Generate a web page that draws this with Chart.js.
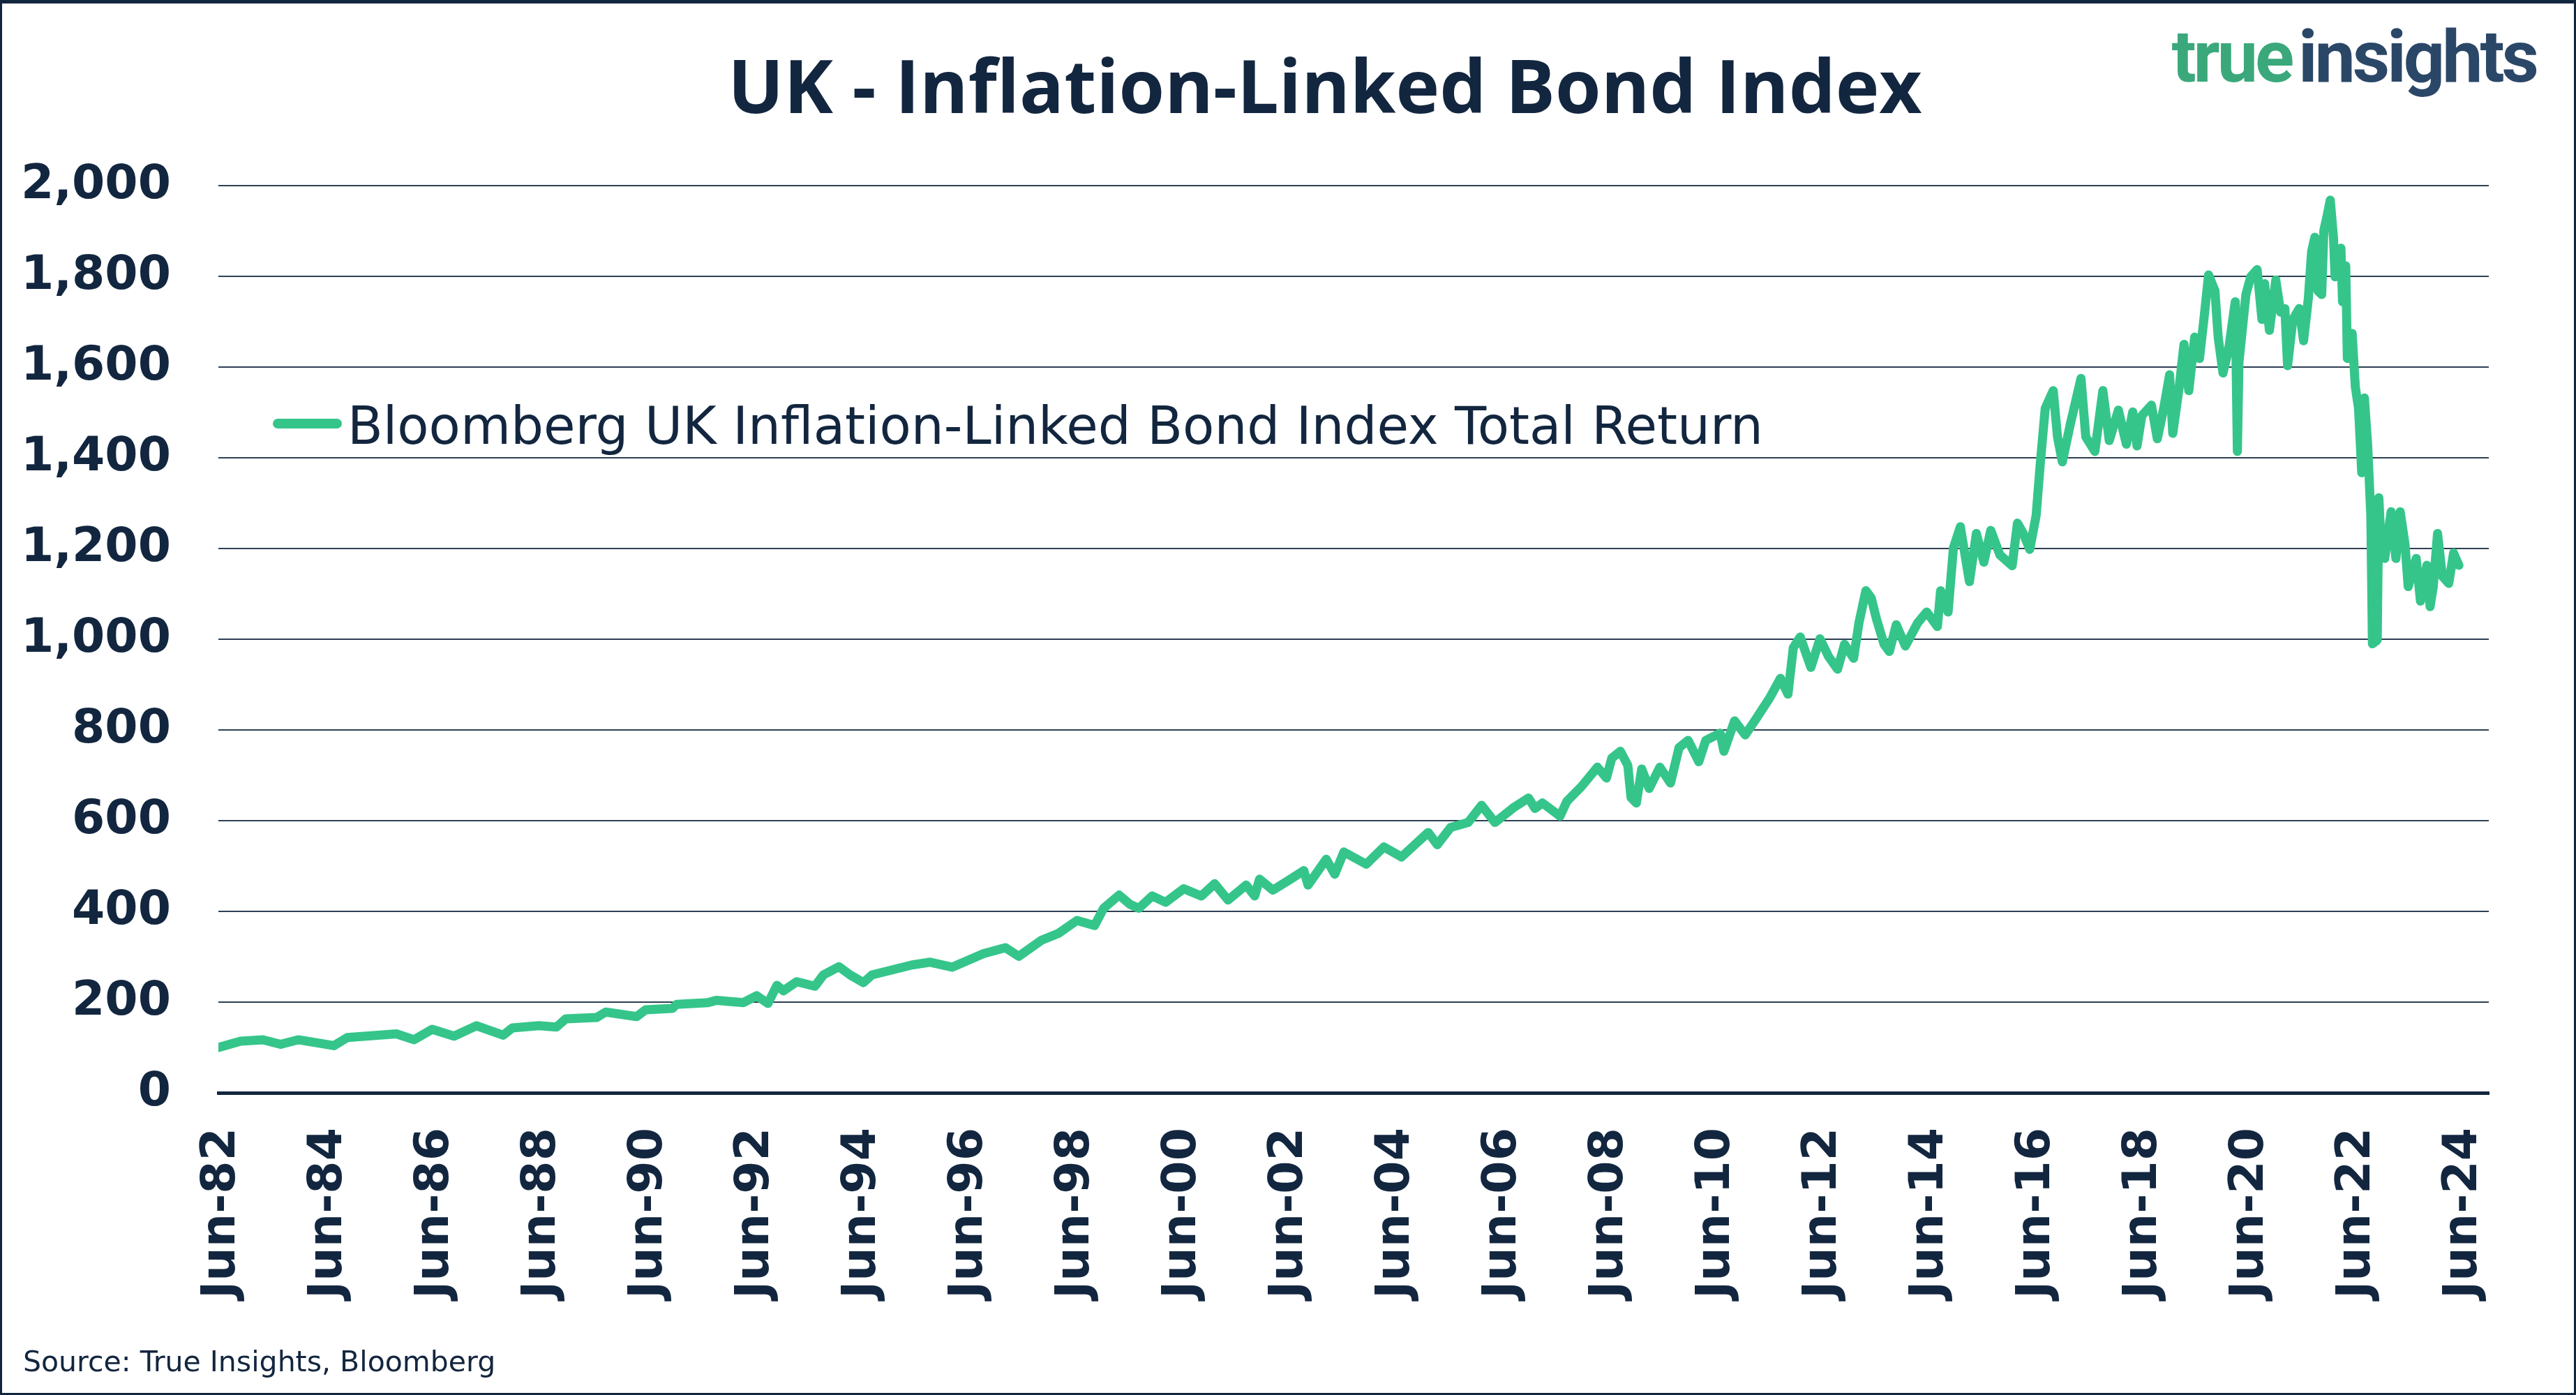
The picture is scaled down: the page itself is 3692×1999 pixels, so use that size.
<!DOCTYPE html>
<html>
<head>
<meta charset="utf-8">
<title>UK - Inflation-Linked Bond Index</title>
<script src="https://cdn.jsdelivr.net/npm/chart.js@4.4.1/dist/chart.umd.min.js"></script>
<style>
  html, body { margin: 0; padding: 0; background: #fff; }
  #page { position: relative; width: 3692px; height: 1999px; overflow: hidden; background: #fff; }
  #chart-box { position: absolute; left: 0; top: 0; width: 3692px; height: 1999px; }
  #frame { position: absolute; left: 0; top: 0; right: 0; bottom: 0; border: 3px solid #13263f; border-top-width: 5px; box-sizing: border-box; pointer-events: none; }
  .txt { position: absolute; white-space: nowrap; line-height: 1; color: #13263f; }
  #title { left: 0; width: 3798px; text-align: center; top: 49px; font: 700 106px "Open Sans"; }
  #logo { right: 57px; top: 21px; font: 700 104px Roboto; letter-spacing: -4px; word-spacing: -12px; }
  #logo .t1 { color: #3aa87b; }
  #logo .t2 { color: #2b4768; }
  #legend { left: 391px; top: 567px; font: 400 74px "DejaVu Sans"; }
  #legend .swatch { position: absolute; left: 0; top: 33px; width: 99px; height: 14px; border-radius: 7px; background: #35c58b; }
  #legend .label { position: absolute; left: 107px; top: 0; }
  #source { left: 33px; top: 1927px; font: 400 41px "DejaVu Sans"; }
</style>
</head>
<body>
<div id="page">
  <div id="chart-box"><canvas id="bond-chart"></canvas></div>
  <div class="txt" id="title">UK - Inflation-Linked Bond Index</div>
  <div class="txt" id="logo"><span class="t1">true</span> <span class="t2">insights</span></div>
  <div class="txt" id="legend"><div class="swatch"></div><div class="label">Bloomberg UK Inflation-Linked Bond Index Total Return</div></div>
  <div class="txt" id="source">Source: True Insights, Bloomberg</div>
  <div id="frame"></div>
</div>
<script>
// dates as decimal years
const dates = [
    1982.39, 1982.80, 1983.22, 1983.55, 1983.88, 1984.55, 1984.80, 1985.72, 1986.05, 1986.39,
    1986.80, 1987.22, 1987.72, 1987.89, 1988.39, 1988.72, 1988.89, 1989.47, 1989.64, 1990.22,
    1990.39, 1990.89, 1990.97, 1991.56, 1991.72, 1992.22, 1992.47, 1992.68, 1992.85, 1992.97,
    1993.22, 1993.56, 1993.72, 1994.01, 1994.22, 1994.47,
    1994.63, 1995.38, 1995.72, 1996.13, 1996.72, 1997.13, 1997.38, 1997.80, 1998.13, 1998.47,
    1998.80, 1998.97, 1999.26, 1999.47, 1999.63, 1999.88, 2000.13, 2000.47, 2000.80, 2001.05,
    2001.30, 2001.64, 2001.80, 2001.89, 2002.14, 2002.47, 2002.72, 2002.80, 2003.14, 2003.30,
    2003.47, 2003.89, 2004.22, 2004.55, 2005.05, 2005.22, 2005.47, 2005.80, 2006.05, 2006.30,
    2006.64, 2006.93,
    2007.05, 2007.19, 2007.52, 2007.65, 2007.92, 2008.22, 2008.39, 2008.49, 2008.65, 2008.79,
    2008.85, 2008.95, 2009.05, 2009.19, 2009.39, 2009.59, 2009.75, 2009.92, 2010.12, 2010.25,
    2010.52, 2010.59, 2010.79, 2010.99, 2011.19, 2011.45, 2011.65, 2011.79, 2011.89, 2012.02,
    2012.22, 2012.39, 2012.55, 2012.72, 2012.85, 2013.02, 2013.12, 2013.25, 2013.35, 2013.45,
    2013.59, 2013.69, 2013.82, 2013.99, 2014.22, 2014.39, 2014.59, 2014.65, 2014.79, 2014.89,
    2015.02, 2015.19, 2015.32, 2015.46, 2015.59, 2015.76, 2015.99, 2016.09,
    2016.20, 2016.32, 2016.44, 2016.52, 2016.61, 2016.76, 2016.84, 2016.93, 2017.08, 2017.28,
    2017.37, 2017.54, 2017.69, 2017.81, 2017.98, 2018.13, 2018.25, 2018.33, 2018.42, 2018.60,
    2018.71, 2018.83, 2018.94, 2019.00, 2019.12, 2019.21, 2019.30, 2019.41, 2019.50, 2019.59,
    2019.67, 2019.79, 2019.85, 2019.94, 2020.05, 2020.17, 2020.21, 2020.24, 2020.37, 2020.46,
    2020.58, 2020.67, 2020.72, 2020.81, 2020.93, 2021.02, 2021.10, 2021.15, 2021.25, 2021.37,
    2021.45, 2021.54, 2021.60, 2021.66, 2021.72, 2021.79, 2021.83, 2021.89, 2021.95, 2022.01,
    2022.04, 2022.10, 2022.15, 2022.18, 2022.24, 2022.27, 2022.36, 2022.42, 2022.48, 2022.54,
    2022.59, 2022.65, 2022.71, 2022.74, 2022.83, 2022.86, 2022.91, 2022.97, 2023.09, 2023.18,
    2023.26, 2023.35, 2023.41, 2023.56, 2023.64, 2023.76, 2023.82, 2023.88, 2023.96, 2024.05,
    2024.17, 2024.26, 2024.36
];
const values = [
    100, 114, 117, 107, 117, 104, 122, 130, 117, 140,
    125, 148, 127, 143, 148, 145, 163, 166, 178, 168,
    183, 186, 195, 199, 204, 199, 214, 197, 237, 225,
    245, 235, 260, 278, 260, 243,
    260, 282, 288, 277, 307, 320, 301, 336, 352, 380,
    369, 407, 436, 415, 407, 434, 420, 450, 434, 461,
    425, 458, 434, 471, 447, 471, 490, 458, 515, 482,
    531, 504, 542, 520, 574, 547, 585, 596, 634, 596,
    628, 650,
    627, 639, 610, 643, 675, 718, 694, 738, 753, 722,
    651, 639, 714, 671, 718, 683, 761, 777, 730, 777,
    793, 753, 820, 789, 824, 871, 914, 879, 981, 1005,
    938, 1001, 962, 934, 989, 958, 1036, 1107, 1091, 1044,
    989, 973, 1032, 985, 1036, 1060, 1028, 1107, 1060, 1201,
    1248, 1127, 1233, 1170, 1240, 1186, 1162, 1256,
    1233, 1198, 1273, 1391, 1509, 1548, 1446, 1391, 1474, 1575,
    1446, 1414, 1548, 1438, 1505, 1430, 1501, 1426, 1493, 1516,
    1442, 1509, 1583, 1454, 1556, 1650, 1548, 1666, 1619, 1713,
    1803, 1768, 1666, 1587, 1642, 1744, 1414, 1611, 1760, 1799,
    1815, 1705, 1784, 1681, 1792, 1721, 1729, 1603, 1705, 1729,
    1658, 1752, 1854, 1886, 1768, 1760, 1901, 1933, 1968, 1886,
    1799, 1854, 1862, 1744, 1823, 1619, 1674, 1556, 1509, 1367,
    1532, 1430, 1273, 990, 998, 1312, 1194, 1178, 1281, 1178,
    1281, 1210, 1116, 1178, 1084, 1163, 1072, 1116, 1233, 1139,
    1123, 1190, 1163
];
const tickYears = [1982, 1984, 1986, 1988, 1990, 1992, 1994, 1996, 1998, 2000, 2002,
    2004, 2006, 2008, 2010, 2012, 2014, 2016, 2018, 2020, 2022, 2024];
const tickLabels = ['Jun-82', 'Jun-84', 'Jun-86', 'Jun-88', 'Jun-90', 'Jun-92', 'Jun-94',
    'Jun-96', 'Jun-98', 'Jun-00', 'Jun-02', 'Jun-04', 'Jun-06', 'Jun-08', 'Jun-10',
    'Jun-12', 'Jun-14', 'Jun-16', 'Jun-18', 'Jun-20', 'Jun-22', 'Jun-24'];

const navy = '#13263f';
const green = '#35c58b';

const points = dates.map((d, i) => ({ x: d, y: values[i] }));

const bondContext = document.getElementById('bond-chart').getContext('2d');
const bondChart = new Chart(bondContext, {
    type: 'line',
    data: {
        datasets: [{
            label: 'Bloomberg UK Inflation-Linked Bond Index Total Return',
            data: points,
            borderColor: green,
            backgroundColor: green,
            borderWidth: 13,
            pointRadius: 0,
            tension: 0,
            borderJoinStyle: 'round',
            borderCapStyle: 'round'
        }]
    },
    options: {
        responsive: true,
        maintainAspectRatio: false,
        animation: false,
        layout: { padding: { left: 0, top: 266, right: 125, bottom: 0 } },
        plugins: {
            legend: { display: false },
            title: { display: false },
            tooltip: { enabled: false }
        },
        scales: {
            x: {
                type: 'linear',
                min: 1982.385,
                max: 2024.92,
                afterBuildTicks: scale => {
                    // June of every second year
                    scale.ticks = tickYears.map(y => ({ value: y + 0.45 }));
                },
                afterFit: scale => { scale.height = 433; },
                grid: { display: false, drawTicks: false },
                border: { display: true, color: navy, width: 5 },
                ticks: {
                    autoSkip: false,
                    minRotation: 90,
                    maxRotation: 90,
                    padding: 50,
                    color: navy,
                    font: { family: 'DejaVu Sans', size: 68, weight: 'bold' },
                    callback: (value, index) => tickLabels[index]
                }
            },
            y: {
                min: 0,
                max: 2000,
                afterFit: scale => { scale.width = 313; },
                grid: { color: '#2e4053', lineWidth: 2, drawTicks: false },
                border: { display: false },
                ticks: {
                    stepSize: 200,
                    padding: 68,
                    color: navy,
                    font: { family: 'DejaVu Sans', size: 68, weight: 'bold' },
                    callback: value => value.toLocaleString('en-US')
                }
            }
        }
    }
});
</script>
</body>
</html>
